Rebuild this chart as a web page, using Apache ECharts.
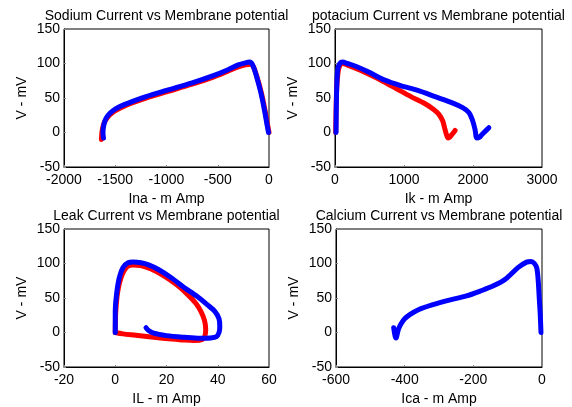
<!DOCTYPE html>
<html><head><meta charset="utf-8">
<script src="https://cdn.jsdelivr.net/npm/echarts@6/dist/echarts.min.js"></script>
<style>html,body{margin:0;padding:0;background:#fff}#c{width:572px;height:407px}</style>
</head><body><div id="c"></div>
<script>
// Sodium
const naRedX = [0, -15, -40, -75, -120, -155, -185, -230, -300, -400, -550, -750, -1000, -1200, -1350, -1455, -1525, -1575, -1608, -1625, -1632, -1635];
const naRedY = [0, 12, 33, 58, 82, 96, 99, 98, 95, 89, 80, 70, 59, 50, 42, 35, 29, 22, 14, 5, -3, -10];
const naBlueX = [-5, -20, -45, -80, -125, -160, -190, -230, -300, -400, -550, -750, -1000, -1200, -1350, -1450, -1520, -1570, -1600, -1615, -1620, -1615];
const naBlueY = [0, 12, 33, 58, 83, 98, 102, 101, 98, 91, 82, 72, 61, 52, 44, 38, 32, 25, 17, 8, 0, -8];
// Potassium
const kRedX = [10, 15, 25, 45, 70, 110, 200, 350, 500, 700, 900, 1100, 1300, 1420, 1500, 1560, 1590, 1615, 1640, 1670, 1710, 1740];
const kRedY = [0, 30, 65, 88, 97, 100, 97, 91, 84, 74, 63, 52, 42, 34, 27, 17, 6, -3, -8, -6, -1, 3];
const kBlueX = [15, 18, 25, 40, 70, 110, 180, 300, 480, 720, 950, 1200, 1450, 1700, 1850, 1940, 1995, 2030, 2055, 2090, 2130, 2180, 2230];
const kBlueY = [0, 30, 65, 92, 100, 102, 100, 96, 88, 76, 68, 61, 52, 43, 36, 29, 17, 4, -8, -7, -3, 2, 7];
// Leak
const lRedX = [0, 0.2, 1, 2.5, 4.5, 7, 10, 14, 19, 24, 28, 31.5, 33.5, 34.8, 35.3, 35, 34, 31, 27, 22, 15, 8, 3, 0];
const lRedY = [0, 30, 60, 82, 95, 98, 97, 92, 82, 69, 56, 42, 30, 18, 5, -5, -10, -11.5, -11, -9.5, -7, -4, -2, 0];
const lBlueX = [0, 0, 0.5, 1.5, 3, 5, 7, 10, 13, 17, 22, 27, 32, 36, 39, 40.5, 40.8, 40.5, 39.5, 37, 33, 27, 20, 15, 13, 12];
const lBlueY = [0, 30, 55, 78, 94, 101, 102, 101, 98, 91, 79, 65, 52, 40, 30, 20, 8, 0, -6, -8, -8.5, -7, -4.5, -1, 3, 7];
// Calcium
const caBlueX = [-3, -5, -8, -11, -15, -22, -32, -45, -70, -105, -140, -180, -220, -270, -320, -360, -385, -400, -410, -418, -422, -425, -428, -432];
const caBlueY = [0, 25, 50, 75, 93, 100, 103, 102, 94, 78, 68, 60, 53, 47, 40, 33, 26, 20, 13, 5, -3, -8, -5, 7];

const titles = ['Sodium Current vs Membrane potential', 'potacium Current vs Membrane potential', 'Leak Current vs Membrane potential', 'Calcium Current vs Membrane potential'];
const xNames = ['Ina - m Amp', 'Ik - m Amp', 'IL - m Amp', 'Ica - m Amp'];
const yName = 'V - mV';
const xRanges = [[-2000, 0, 500], [0, 3000, 1000], [-20, 60, 20], [-600, 0, 200]];
const yRange = [-50, 150, 50];

const grids = [
  {left: 64, top: 29, width: 205, height: 138},
  {left: 335, top: 29, width: 207, height: 138},
  {left: 64, top: 229, width: 205, height: 139},
  {left: 336, top: 229, width: 206, height: 139}
];
const zip = (a, b) => a.map((v, i) => [v, b[i]]);
const font = 'Arial, "Liberation Sans", sans-serif';
const axisCommon = {
  axisLine: {show: true, onZero: false, lineStyle: {color: '#000', width: 1}},
  axisTick: {show: true, inside: true, length: 2, lineStyle: {color: '#888'}},
  splitLine: {show: false},
  axisLabel: {color: '#000', fontSize: 14, fontFamily: font, margin: 4, formatter: v => String(v)},
  nameTextStyle: {color: '#000', fontSize: 14, fontFamily: font}
};
const option = {
  animation: false,
  backgroundColor: '#fff',
  title: grids.map((g, i) => ({
    text: titles[i], left: g.left + g.width / 2, top: g.top - 20, textAlign: 'center', padding: 0,
    textStyle: {fontSize: 14, fontWeight: 'normal', color: '#000', fontFamily: font}
  })),
  grid: grids.map(g => Object.assign({show: true, borderColor: '#000', borderWidth: 1, backgroundColor: 'transparent'}, g)),
  xAxis: grids.map((g, i) => Object.assign({}, axisCommon, {
    type: 'value', gridIndex: i, min: xRanges[i][0], max: xRanges[i][1], interval: xRanges[i][2],
    axisLabel: Object.assign({}, axisCommon.axisLabel, {margin: 6}),
    name: xNames[i], nameLocation: 'middle', nameGap: 25
  })),
  yAxis: grids.map((g, i) => Object.assign({}, axisCommon, {
    type: 'value', gridIndex: i, min: yRange[0], max: yRange[1], interval: yRange[2],
    name: yName, nameLocation: 'middle', nameGap: 35
  })),
  series: [
    {data: zip(naRedX, naRedY), color: '#ff0000', idx: 0},
    {data: zip(naBlueX, naBlueY), color: '#0000ff', idx: 0},
    {data: zip(kRedX, kRedY), color: '#ff0000', idx: 1},
    {data: zip(kBlueX, kBlueY), color: '#0000ff', idx: 1},
    {data: zip(lRedX, lRedY), color: '#ff0000', idx: 2},
    {data: zip(lBlueX, lBlueY), color: '#0000ff', idx: 2},
    {data: zip(caBlueX, caBlueY), color: '#0000ff', idx: 3}
  ].map(s => ({
    type: 'line', xAxisIndex: s.idx, yAxisIndex: s.idx, data: s.data, showSymbol: false,
    smooth: 0.3, lineStyle: {color: s.color, width: 5, cap: 'round', join: 'round'}, itemStyle: {color: s.color}
  }))
};
echarts.init(document.getElementById('c')).setOption(option);
</script></body></html>
